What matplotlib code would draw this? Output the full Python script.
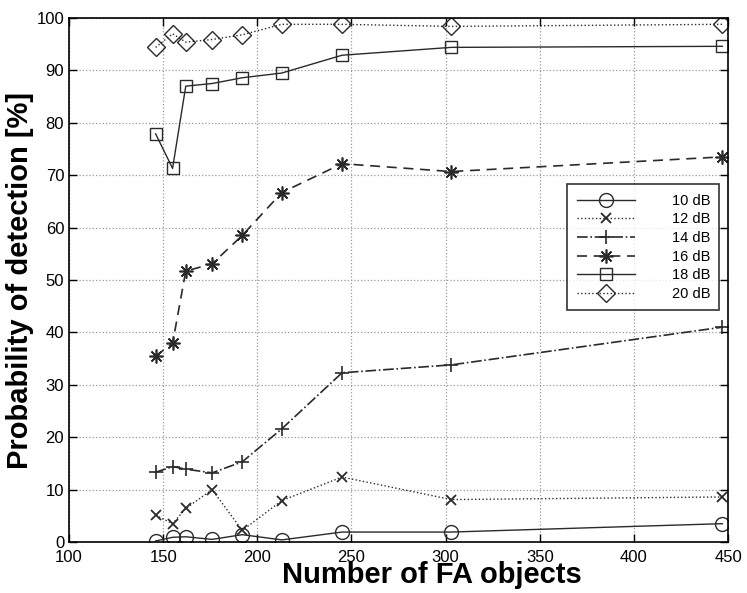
import matplotlib.pyplot as plt

# number of false-alarm objects at each operating point
fa_objects = [146, 155, 162, 176, 192, 213, 245, 303, 447]

# detection probability [%] per SNR
pd_10db = [0.2, 0.9, 1.0, 0.5, 1.4, 0.4, 1.9, 1.9, 3.5]
pd_12db = [5.1, 3.5, 6.4, 10.0, 2.2, 7.9, 12.4, 8.1, 8.6]
pd_14db = [13.3, 14.4, 13.9, 13.2, 15.3, 21.6, 32.3, 33.8, 41.0]
pd_16db = [35.5, 37.9, 51.7, 53.1, 58.5, 66.7, 72.2, 70.7, 73.5]
pd_18db = [77.9, 71.3, 87.0, 87.5, 88.6, 89.5, 92.9, 94.4, 94.6]
pd_20db = [94.4, 97.0, 95.4, 95.9, 96.8, 98.8, 98.8, 98.4, 98.8]

labels = ['10 dB', '12 dB', '14 dB', '16 dB', '18 dB', '20 dB']

plt.rcParams['font.family'] = ['Liberation Sans', 'DejaVu Sans']

fig = plt.figure(figsize=(7.47, 5.93), dpi=100)
ax = fig.add_axes([0.0924, 0.086, 0.8822, 0.8836])

c = '#2a2a2a'
asterisk = (8, 2, 0)  # plus and cross combined
ax.plot(fa_objects, pd_10db, '-', marker='o', ms=10, mfc='none', color=c, lw=1, mew=1, label=labels[0])
ax.plot(fa_objects, pd_12db, ':', marker='x', ms=7, color=c, lw=1, mew=1.3, label=labels[1])
ax.plot(fa_objects, pd_14db, '-.', marker='+', ms=10, color=c, lw=1.2, mew=1.2, label=labels[2])
ax.plot(fa_objects, pd_16db, '--', marker=asterisk, ms=10, color=c, lw=1.2, mew=1.2, label=labels[3],
        dashes=(6, 4))
ax.plot(fa_objects, pd_18db, '-', marker='s', ms=9, mfc='none', color=c, lw=1, mew=1, label=labels[4])
ax.plot(fa_objects, pd_20db, ':', marker='D', ms=9, mfc='none', color=c, lw=1, mew=1, label=labels[5])

ax.set_xlim(100, 450)
ax.set_ylim(0, 100)
ax.set_xticks(range(100, 451, 50))
ax.set_yticks(range(0, 101, 10))
ax.tick_params(direction='in', top=True, right=True, length=6, labelsize=12, width=1)
ax.tick_params(axis='x', pad=6)
ax.grid(True, linestyle=':', color='#999999', lw=0.9)
for s in ax.spines.values():
    s.set_linewidth(1.2)

ax.set_xlabel('Number of FA objects', fontsize=21, fontweight='bold')
ax.xaxis.set_label_coords(0.551, -0.036)
ax.set_ylabel('Probability of detection [%]', fontsize=21, fontweight='bold', labelpad=2)

leg = ax.legend(loc='upper left', bbox_to_anchor=(0.756, 0.683), borderaxespad=0, fontsize=10.5,
                frameon=True, fancybox=False, edgecolor='black', handlelength=4.0,
                handletextpad=2.5, labelspacing=0.32, borderpad=0.65)
leg.get_frame().set_linewidth(1.2)

plt.savefig('out.png', dpi=100)
